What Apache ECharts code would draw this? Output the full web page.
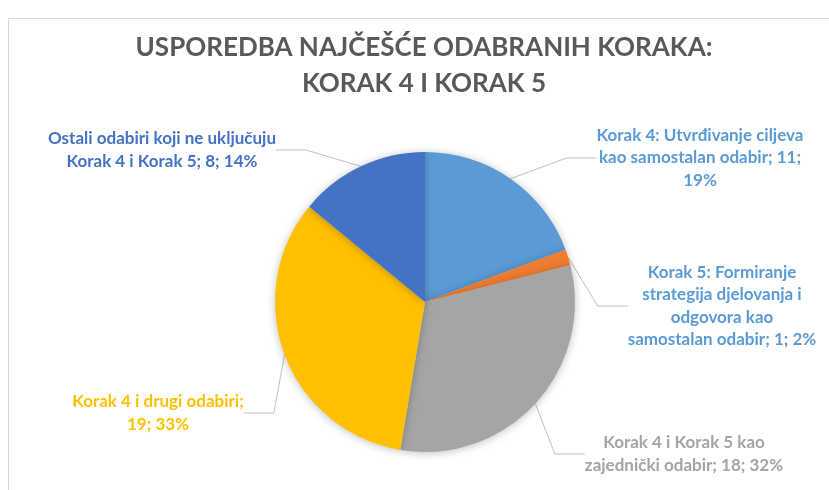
<!DOCTYPE html>
<html>
<head>
<meta charset="utf-8">
<script src="https://cdn.jsdelivr.net/npm/echarts@6/dist/echarts.min.js"></script>
<style>
  html, body { margin: 0; padding: 0; background: #fff; }
  #chart { width: 829px; height: 490px; }
</style>
</head>
<body>
<div id="chart"></div>
<script>
// podaci
var categories = [
  'Korak 4: Utvrđivanje ciljeva kao samostalan odabir',
  'Korak 5: Formiranje strategija djelovanja i odgovora kao samostalan odabir',
  'Korak 4 i Korak 5 kao zajednički odabir',
  'Korak 4 i drugi odabiri',
  'Ostali odabiri koji ne uključuju Korak 4 i Korak 5'
]
var values = [11, 1, 18, 19, 8]
var colors = ['#5B9BD5', '#ED7D31', '#A5A5A5', '#FFC000', '#4472C4']
var labelColors = ['#5B9BD5', '#5B9BD5', '#A5A5A5', '#FFC000', '#4472C4']

// broj riječi po retku u oznaci (prijelom kao u originalu)
var labelWrap = [[4, 4, 1], [3, 3, 2, 4], [6, 4], [5, 2], [5, 7]]
// središta oznaka
var labelPos = [[700, 158], [722, 306], [684, 454], [158, 413], [162, 150]]

function wrapWords(text, counts) {
  var words = text.split(' ')
  var lines = []
  var i = 0
  counts.forEach(function (n) {
    lines.push(words.slice(i, i + n).join(' '))
    i += n
  })
  if (i < words.length) lines.push(words.slice(i).join(' '))
  return lines.join('\n')
}

var chart = echarts.init(document.getElementById('chart'))

var option = {
  animation: false,
  graphic: [
    { type: 'line', shape: { x1: 8.5, y1: 18.5, x2: 829, y2: 18.5 }, style: { stroke: '#d9d9d9', lineWidth: 1 } },
    { type: 'line', shape: { x1: 8.5, y1: 18.5, x2: 8.5, y2: 490 }, style: { stroke: '#d9d9d9', lineWidth: 1 } },
    {
      type: 'text', x: 424, y: 48,
      style: {
        text: 'USPOREDBA NAJČEŠĆE ODABRANIH KORAKA:',
        fill: '#595959', font: 'bold 26px Lato',
        textAlign: 'center', textVerticalAlign: 'middle'
      }
    },
    {
      type: 'text', x: 424, y: 84,
      style: {
        text: 'KORAK 4 I KORAK 5',
        fill: '#595959', font: 'bold 26px Lato',
        textAlign: 'center', textVerticalAlign: 'middle'
      }
    }
  ],
  series: [
    {
      type: 'pie',
      center: [425, 302],
      radius: 150,
      startAngle: 90,
      clockwise: true,
      percentPrecision: 0,
      data: categories.map(function (name, i) {
        return {
          name: name,
          value: values[i],
          itemStyle: { color: colors[i] },
          label: { color: labelColors[i] }
        }
      }),
      itemStyle: {
        borderWidth: 0,
        shadowBlur: 8,
        shadowColor: 'rgba(0,0,0,0.25)',
        shadowOffsetY: 1
      },
      label: {
        show: true,
        position: 'outside',
        fontFamily: 'Lato',
        fontWeight: 'bold',
        fontSize: 17,
        lineHeight: 22.5,
        align: 'center',
        formatter: function (p) {
          return wrapWords(p.name + '; ' + p.value + '; ' + p.percent + '%', labelWrap[p.dataIndex])
        }
      },
      labelLine: {
        show: true,
        lineStyle: { color: '#bfbfbf', width: 1 }
      },
      labelLayout: function (params) {
        var pos = labelPos[params.dataIndex]
        return { x: pos[0], y: pos[1], align: 'center', verticalAlign: 'middle' }
      },
      emphasis: { disabled: true }
    }
  ]
}

chart.setOption(option)
</script>
</body>
</html>
